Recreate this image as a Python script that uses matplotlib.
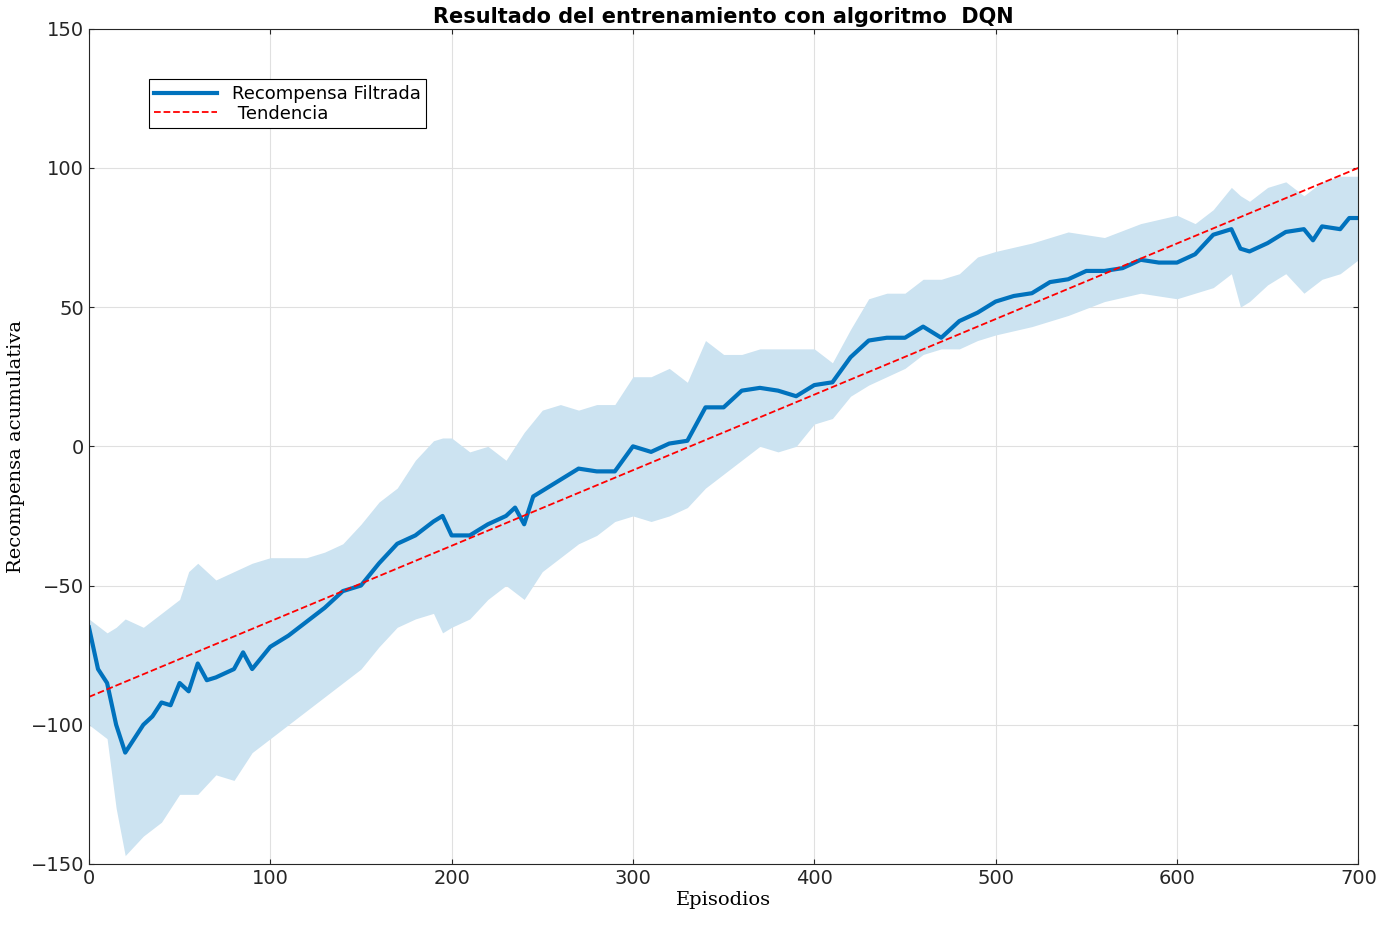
import matplotlib
matplotlib.use('Agg')
import matplotlib.pyplot as plt

# filtered reward
ep = [0, 5, 10, 15, 20, 25, 30, 35, 40, 45, 50, 55, 60, 65, 70, 80, 85, 90, 100, 110,
      120, 130, 140, 150, 160, 170, 180, 190, 195, 200, 210, 220, 230, 235, 240, 245,
      250, 260, 270, 280, 290, 300, 310, 320, 330, 340, 350, 360, 370, 380, 390, 400,
      410, 420, 430, 440, 450, 460, 470, 480, 490, 500, 510, 520, 530, 540, 550, 560,
      570, 580, 590, 600, 610, 620, 630, 635, 640, 650, 660, 670, 675, 680, 690, 695, 700]
reward = [-65, -80, -85, -100, -110, -105, -100, -97, -92, -93, -85, -88, -78, -84, -83,
          -80, -74, -80, -72, -68, -63, -58, -52, -50, -42, -35, -32, -27, -25, -32, -32,
          -28, -25, -22, -28, -18, -16, -12, -8, -9, -9, 0, -2, 1, 2, 14, 14, 20, 21, 20,
          18, 22, 23, 32, 38, 39, 39, 43, 39, 45, 48, 52, 54, 55, 59, 60, 63, 63, 64, 67,
          66, 66, 69, 76, 78, 71, 70, 73, 77, 78, 74, 79, 78, 82, 82]

band_x = [0, 10, 15, 20, 30, 40, 50, 55, 60, 70, 80, 90, 100, 110, 120, 130, 140, 150,
          160, 170, 180, 190, 195, 200, 210, 220, 230, 240, 250, 260, 270, 280, 290, 300,
          310, 320, 330, 340, 350, 360, 370, 380, 390, 400, 410, 420, 430, 440, 450, 460,
          470, 480, 490, 500, 520, 540, 560, 580, 600, 610, 620, 630, 635, 640, 650, 660,
          670, 680, 690, 700]
band_hi = [-62, -67, -65, -62, -65, -60, -55, -45, -42, -48, -45, -42, -40, -40, -40, -38,
           -35, -28, -20, -15, -5, 2, 3, 3, -2, 0, -5, 5, 13, 15, 13, 15, 15, 25, 25, 28,
           23, 38, 33, 33, 35, 35, 35, 35, 30, 42, 53, 55, 55, 60, 60, 62, 68, 70, 73, 77,
           75, 80, 83, 80, 85, 93, 90, 88, 93, 95, 90, 95, 97, 97]
band_lo = [-100, -105, -130, -147, -140, -135, -125, -125, -125, -118, -120, -110, -105,
           -100, -95, -90, -85, -80, -72, -65, -62, -60, -67, -65, -62, -55, -50, -55, -45,
           -40, -35, -32, -27, -25, -27, -25, -22, -15, -10, -5, 0, -2, 0, 8, 10, 18, 22,
           25, 28, 33, 35, 35, 38, 40, 43, 47, 52, 55, 53, 55, 57, 62, 50, 52, 58, 62, 55,
           60, 62, 67]

trend_x = [0, 700]
trend_y = [-90, 100]

fig = plt.figure(figsize=(13.79, 9.26), dpi=100)
ax = fig.add_axes([0.0645, 0.067, 0.9205, 0.902])

ax.fill_between(band_x, band_lo, band_hi, color='#cce3f1', linewidth=0)
ax.plot(ep, reward, color='#0072bd', lw=3, label='Recompensa Filtrada')
ax.plot(trend_x, trend_y, ls='--', color='red', lw=1.3, label=' Tendencia')

ax.set_xlim(0, 700)
ax.set_ylim(-150, 150)
ax.set_xticks(range(0, 701, 100))
ax.set_yticks(range(-150, 151, 50))
ax.grid(True, color='#e0e0e0', lw=0.8)
ax.set_axisbelow(True)
ax.tick_params(direction='in', top=True, right=True, labelsize=14, colors='#262626')
for s in ax.spines.values():
    s.set_color('#262626')

ax.set_title('Resultado del entrenamiento con algoritmo  DQN', fontsize=15,
             fontweight='bold', pad=4)
ax.set_xlabel('Episodios', family='DejaVu Serif', fontsize=14, labelpad=2)
ax.set_ylabel('Recompensa acumulativa', family='DejaVu Serif', fontsize=14, labelpad=4)

leg = ax.legend(loc='upper left', bbox_to_anchor=(0.04, 0.95), fontsize=13,
                fancybox=False, edgecolor='black', framealpha=1, handlelength=3.5,
                borderpad=0.3, labelspacing=0.1)
leg.get_frame().set_linewidth(0.8)

fig.savefig('out.png')
